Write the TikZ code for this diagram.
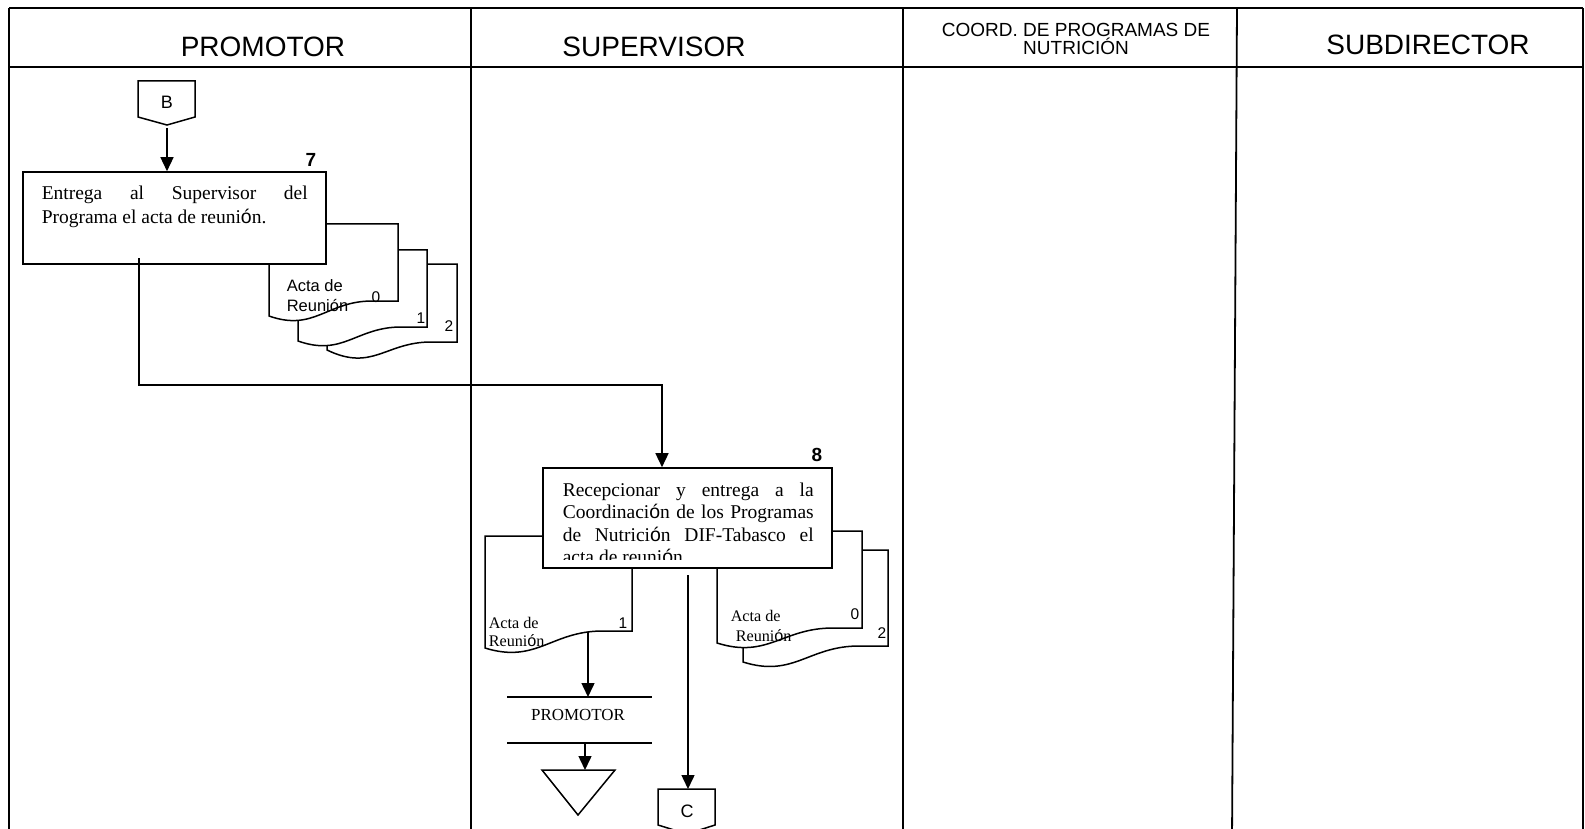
\documentclass[tikz,border=0pt]{standalone}
\usepackage{fontspec}
\setmainfont{Liberation Serif}
\newfontfamily\arial{Liberation Sans}
\usetikzlibrary{arrows.meta}
\newcommand{\so}{{\arial ó}}
\newcommand{\docshp}[6]{%
  \draw[docst] (#1,#2) -- (#3,#2) -- (#3,#5) -- ({#1+0.8*(#3-#1)},#5)
    .. controls ({#1+0.45*(#3-#1)},#5) and ({#1+0.35*(#3-#1)},{#4+#6}) .. (#1,#4) -- cycle;}
\begin{document}
\begin{tikzpicture}[x=1pt,y=-1pt,line width=1.5pt,
  frame/.style={line width=1.8pt},
  docst/.style={draw,fill=white,line width=1.5pt},
  boxst/.style={draw,fill=white,rectangle,line width=1.6pt,inner sep=0pt},
  arr/.style={-{Triangle[length=14pt,width=13pt]},line width=1.5pt},
  hdr/.style={font=\arial\fontsize{28}{30}\selectfont,inner sep=0pt,anchor=base},
  hdrs/.style={font=\arial\fontsize{19}{21}\selectfont,inner sep=0pt,anchor=base},
  num/.style={font=\arial\bfseries\fontsize{19}{21}\selectfont,inner sep=0pt,anchor=base},
  dnum/.style={font=\arial\fontsize{15.5}{17}\selectfont,inner sep=0pt,anchor=base},
  dlabs/.style={font=\arial\fontsize{16.5}{18}\selectfont,inner sep=0pt,anchor=base west},
  dlabr/.style={font=\fontsize{16.2}{18}\selectfont,inner sep=0pt,anchor=base west},
  steptext/.style={anchor=north west,align=justify,inner sep=0pt},
  conn/.style={font=\arial\fontsize{18}{20}\selectfont,inner sep=0pt}]
\useasboundingbox (0,0) rectangle (1585,829);
% frame
\draw[frame] (9,8) -- (1583,8);
\draw[frame] (9,67) -- (1583,67);
\draw[frame] (9,8) -- (9,840);
\draw[frame] (471,8) -- (471,840);
\draw[frame] (903,8) -- (903,840);
\draw[frame] (1237,8) -- (1232,840);
\draw[frame] (1583,8) -- (1583,840);
% headers
\node[hdr] (h1) at (263,57) {PROMOTOR};
\node[hdr] (h2) at (654,57) {SUPERVISOR};
\node[hdrs] (h3a) at (1076,37) {COORD. DE PROGRAMAS DE};
\node[hdrs] (h3b) at (1076,54.5) {NUTRICI\'ON};
\node[hdr] (h4) at (1428,55) {SUBDIRECTOR};
% connector B
\draw[line width=1.5pt] (138,81) -- (195,81) -- (195,117) -- (167,125) -- (138,117) -- cycle;
\node[conn] (B) at (167,102) {B};
\coordinate (Bb) at (167,128);
% documents of step 7
\docshp{327}{264}{457}{350}{342}{22}
\docshp{298}{250}{427}{341}{327}{16}
\docshp{269}{224}{398}{316}{301}{16}
\node[dnum] (a2) at (449,331) {2};
\node[dnum] (a1) at (421,323) {1};
\node[dnum] (a0) at (376,302) {0};
\node[dlabs] (a0l1) at (286,291) {Acta de};
\node[dlabs] (a0l2) at (286,311) {Reuni\'on};
% step 7
\node[boxst,minimum width=303pt,minimum height=92pt] (s7) at (174.5,218) {};
\node[steptext,text width=266pt,font=\fontsize{19.5}{24}\selectfont] (t7) at (41,185.5)
  {Entrega al Supervisor del\linebreak Programa el acta de reuni\so n.};
\node[num] (n7) at (311,166.5) {7};
\draw[arr] (Bb) -- (Bb |- s7.north);
% link 7 -> 8
\coordinate (p7) at (139,258);
\coordinate (m) at (662,385);
% documents of step 8
\docshp{485}{536}{632}{648}{631}{16}
\docshp{743}{550}{888}{662}{646}{16}
\docshp{717}{531}{862}{643}{628}{16}
\node[dnum] (b1) at (623,628) {1};
\node[dlabr] (b1l1) at (488,628) {Acta de};
\node[dlabr] (b1l2) at (488,646) {Reuni\so n};
\node[dnum] (b2) at (882,638) {2};
\node[dnum] (b0) at (855,619) {0};
\node[dlabr] (b0l1) at (730,621) {Acta de};
\node[dlabr] (b0l2) at (735,641) {Reuni\so n};
% step 8
\node[boxst,minimum width=289pt,minimum height=100pt] (s8) at (687.5,518) {};
\begin{scope}
\clip (545,470) rectangle (830,559);
\node[steptext,text width=251pt,font=\fontsize{19.5}{22.5}\selectfont] (t8) at (562,482.2)
  {Recepcionar y entrega a la\linebreak Coordinaci\so n de los Programas\linebreak de Nutrici\so n DIF-Tabasco el\linebreak acta de reuni\so n};
\end{scope}
\node[num] (n8) at (817,461) {8};
\draw[arr] (p7) |- (m) -- (m |- s8.north);
% PROMOTOR archive
\coordinate (d1) at (588,632);
\draw (507,697) coordinate (pl1) -- (652,697) coordinate (pr1);
\draw (507,743) coordinate (pl2) -- (652,743) coordinate (pr2);
\node[font=\fontsize{16.9}{19}\selectfont,inner sep=0pt,anchor=base] (prom) at (578,720) {PROMOTOR};
\draw[arr] (d1) -- (d1 |- pl1);
\coordinate (tA) at (542,770);
\coordinate (tB) at (615,770);
\coordinate (tC) at (578,815);
\draw[line width=1.5pt] (tA) -- (tB) -- (tC) -- cycle;
\coordinate (d2) at (585,743);
\draw[arr] (d2) -- (d2 |- tA);
% connector C
\coordinate (c0) at (688,575);
\draw[line width=1.5pt] (658,789) -- (715,789) -- (715,825) -- (687,834) -- (658,825) -- cycle;
\node[conn] (C) at (687,811) {C};
\draw[arr] (c0) -- (688,789);
\end{tikzpicture}
\end{document}
